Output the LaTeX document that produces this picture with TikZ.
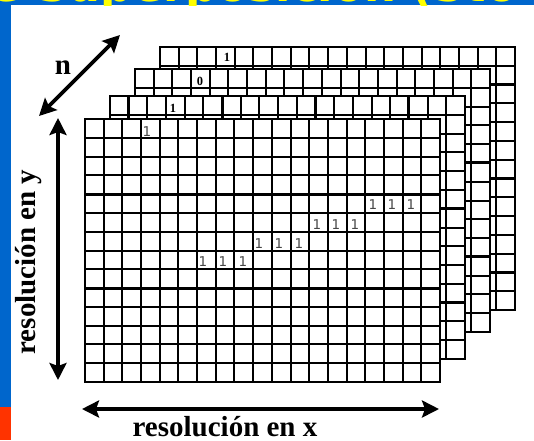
\documentclass[tikz,border=0pt]{standalone}
\usepackage{fontspec}
\setmainfont{Liberation Serif}
\newfontfamily\titlefont{DejaVu Sans}
\newfontfamily\numfont{DejaVu Sans}
\usetikzlibrary{arrows.meta}
\definecolor{slideblue}{RGB}{0,102,204}
\definecolor{slidered}{RGB}{255,51,0}
\definecolor{titleyellow}{RGB}{255,255,0}
\newcommand{\gridlayer}[3]{%
  \begin{scope}[shift={(#1,#2)}]
    \fill[white] (0,0) rectangle (355,263);
    \foreach \i in {1,...,18} \draw[gridline] (\i*18.684,0) -- (\i*18.684,263);
    \foreach \j in {1,...,13} \draw[gridline] (0,\j*18.786) -- (355,\j*18.786);
    #3
    \draw[border] (0,0) rectangle (355,263);
  \end{scope}}
\begin{document}
\begin{tikzpicture}[x=1pt,y=-1pt,
  gridline/.style={line width=2pt},
  thickline/.style={line width=3pt},
  border/.style={line width=2.4pt},
  dimarrow/.style={line width=3.8pt,
    {Stealth[length=17pt,width=17pt,inset=3pt]}-{Stealth[length=17pt,width=17pt,inset=3pt]}},
  lbl/.style={font=\bfseries\fontsize{29}{29}\selectfont, inner sep=0pt},
  frontnum/.style={font=\numfont\fontsize{13.5}{13.5}\selectfont, text=black!72, inner sep=0pt},
  backnum/.style={font=\bfseries\fontsize{12.5}{12.5}\selectfont, inner sep=0pt}]
\useasboundingbox (0,0) rectangle (534,440);
\fill[white] (0,0) rectangle (534,440);
% slide frame
\fill[slideblue] (0,0) rectangle (534,5);
\fill[slideblue] (0,0) rectangle (11,407);
\fill[slidered] (0,407) rectangle (11,440);
\begin{scope}
  \clip (0,0) rectangle (534,5);
  \node[anchor=base west, inner sep=0pt, text=titleyellow,
        font=\titlefont\bfseries\fontsize{45}{45}\selectfont] (title) at (-10,1) {e Superposición (Sto};
\end{scope}
% layers, back to front
\gridlayer{160}{47}{\foreach \j in {2,7,12} \draw[thickline] (0,\j*18.786) -- (355,\j*18.786);}
\gridlayer{135}{69}{\foreach \j in {5,10} \draw[thickline] (0,\j*18.786) -- (355,\j*18.786);}
\gridlayer{110}{96}{\foreach \j in {6,11} \draw[thickline] (0,\j*18.786) -- (355,\j*18.786);
  \foreach \i in {1,6,11,16} \draw[thickline] (\i*18.684,0) -- (\i*18.684,263);}
\gridlayer{85}{119}{\foreach \j in {4,9} \draw[thickline] (0,\j*18.786) -- (355,\j*18.786);}
% numbers
\node[backnum] (b4) at (227,57) {1};
\node[backnum] (b3) at (200,81) {0};
\node[backnum] (b2) at (173,108) {1};
\node[frontnum] (f0) at (147,132) {1};
\node[frontnum] (a1) at (203,262) {1};
\node[frontnum] (a2) at (223,262) {1};
\node[frontnum] (a3) at (243,262) {1};
\node[frontnum] (c1) at (259,244) {1};
\node[frontnum] (c2) at (279,244) {1};
\node[frontnum] (c3) at (299,244) {1};
\node[frontnum] (d1) at (317,225) {1};
\node[frontnum] (d2) at (336,225) {1};
\node[frontnum] (d3) at (355,225) {1};
\node[frontnum] (e1) at (373,205) {1};
\node[frontnum] (e2) at (392,205) {1};
\node[frontnum] (e3) at (411,205) {1};
% dimension arrows
\coordinate (nlow) at (39,116);
\coordinate (nhigh) at (120,35);
\coordinate (ytop) at (58,118);
\coordinate (ybot) at (58,380);
\coordinate (xleft) at (82,409);
\coordinate (xright) at (439,409);
\draw[dimarrow] (nlow) -- (nhigh);
\draw[dimarrow] (ytop) -- (ybot);
\draw[dimarrow] (xleft) -- (xright);
\node[lbl, anchor=base] (nl) at (63,74) {n};
\node[lbl, anchor=base, rotate=90] (yl) at (35,262) {resolución en y};
\node[lbl, anchor=base] (xl) at (225,436) {resolución en x};
\end{tikzpicture}
\end{document}
